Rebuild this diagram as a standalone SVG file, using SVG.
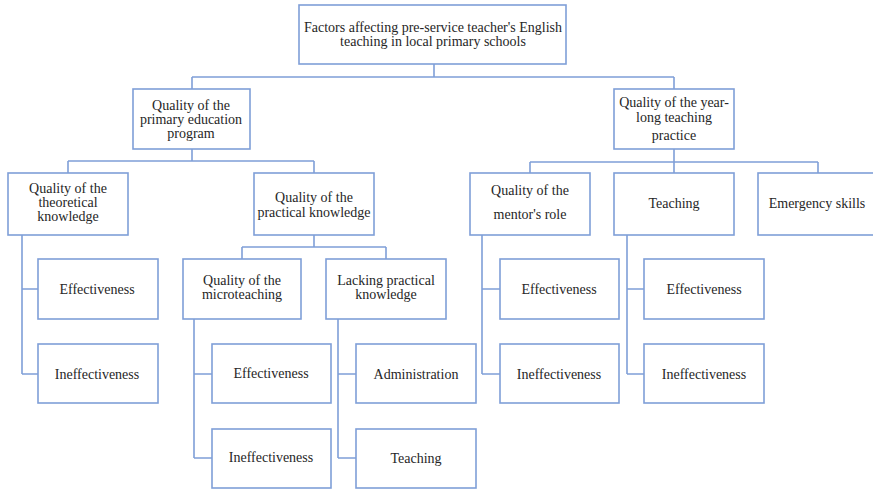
<svg xmlns="http://www.w3.org/2000/svg" width="873" height="489" viewBox="0 0 873 489">
<style>
.b{fill:#fff;stroke:#7f9fd8;stroke-width:1.6}
.c{fill:none;stroke:#7f9fd8;stroke-width:1.6}
text{font-family:"Liberation Serif","Times New Roman",serif;font-size:14px;fill:#262626;text-anchor:middle}
</style>
<rect width="873" height="489" fill="#fff"/>
<g id="connectors">
<path class="c" d="M434 64V77M192 77H674M192 77V89M674 77V89"/>
<path class="c" d="M192 149V161M68 161H314M68 161V173M314 161V173"/>
<path class="c" d="M674 149V162M530 162H818M530 162V173M674 162V173M818 162V173"/>
<path class="c" d="M22 235V374M22 289H38M22 374H38"/>
<path class="c" d="M314 235V247M242 247H386M242 247V259M386 247V259"/>
<path class="c" d="M194 319V458M194 374H212M194 458H212"/>
<path class="c" d="M338 319V458M338 374H356M338 458H356"/>
<path class="c" d="M482 235V374M482 289H500M482 374H500"/>
<path class="c" d="M627 235V374M627 289H644M627 374H644"/>
</g>
<g id="root"><rect class="b" x="299" y="5" width="267" height="59"/><text x="433" y="32">Factors affecting pre-service teacher's English</text><text x="433" y="46">teaching in local primary schools</text></g>
<g id="n-primary"><rect class="b" x="133" y="89" width="117" height="60"/><text x="191" y="110">Quality of the</text><text x="191" y="124">primary education</text><text x="191" y="138">program</text></g>
<g id="n-yearlong"><rect class="b" x="614" y="89" width="120" height="60"/><text x="674" y="107">Quality of the year-</text><text x="674" y="122">long teaching</text><text x="674" y="140">practice</text></g>
<g id="n-theoretical"><rect class="b" x="8" y="173" width="120" height="62"/><text x="68" y="193">Quality of the</text><text x="68" y="207">theoretical</text><text x="68" y="221">knowledge</text></g>
<g id="n-practical"><rect class="b" x="254" y="173" width="120" height="62"/><text x="314" y="202">Quality of the</text><text x="314" y="217">practical knowledge</text></g>
<g id="n-mentor"><rect class="b" x="470" y="173" width="120" height="62"/><text x="530" y="195">Quality of the</text><text x="530" y="219">mentor's role</text></g>
<g id="n-teaching"><rect class="b" x="614" y="173" width="120" height="62"/><text x="674" y="208">Teaching</text></g>
<g id="n-emergency"><rect class="b" x="758" y="173" width="120" height="62"/><text x="817" y="208">Emergency skills</text></g>
<g id="n-th-eff"><rect class="b" x="38" y="259" width="120" height="60"/><text x="97" y="294">Effectiveness</text></g>
<g id="n-th-ineff"><rect class="b" x="38" y="344" width="120" height="59"/><text x="97" y="379">Ineffectiveness</text></g>
<g id="n-micro"><rect class="b" x="183" y="259" width="118" height="60"/><text x="242" y="285">Quality of the</text><text x="242" y="299">microteaching</text></g>
<g id="n-lacking"><rect class="b" x="326" y="259" width="120" height="60"/><text x="386" y="285">Lacking practical</text><text x="386" y="299">knowledge</text></g>
<g id="n-mi-eff"><rect class="b" x="212" y="344" width="119" height="59"/><text x="271" y="378">Effectiveness</text></g>
<g id="n-mi-ineff"><rect class="b" x="212" y="429" width="119" height="59"/><text x="271" y="462">Ineffectiveness</text></g>
<g id="n-admin"><rect class="b" x="356" y="344" width="120" height="59"/><text x="416" y="379">Administration</text></g>
<g id="n-lk-teach"><rect class="b" x="356" y="429" width="120" height="59"/><text x="416" y="463">Teaching</text></g>
<g id="n-me-eff"><rect class="b" x="500" y="259" width="119" height="60"/><text x="559" y="294">Effectiveness</text></g>
<g id="n-me-ineff"><rect class="b" x="500" y="344" width="119" height="59"/><text x="559" y="379">Ineffectiveness</text></g>
<g id="n-te-eff"><rect class="b" x="644" y="259" width="120" height="60"/><text x="704" y="294">Effectiveness</text></g>
<g id="n-te-ineff"><rect class="b" x="644" y="344" width="120" height="59"/><text x="704" y="379">Ineffectiveness</text></g>
</svg>
